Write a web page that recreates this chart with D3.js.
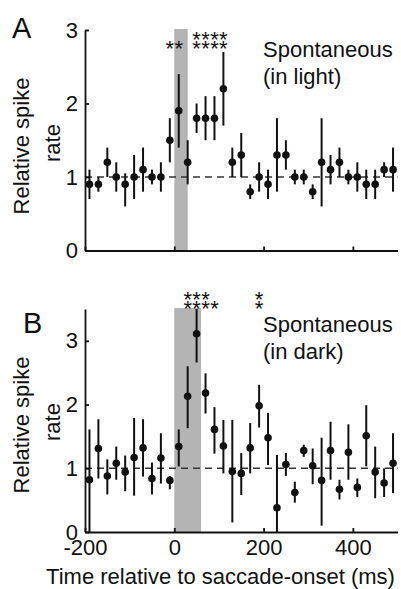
<!DOCTYPE html>
<html>
<head>
<meta charset="utf-8">
<script src="https://cdn.jsdelivr.net/npm/d3@7"></script>
<style>
  body { margin: 0; background: #fff; }
  svg { display: block; font-family: "Liberation Sans", Arial, sans-serif; }
  .axis path, .axis line { stroke: #111; stroke-width: 1.8; }
  .axis text { font-size: 22px; fill: #111; font-family: "Liberation Sans", Arial, sans-serif; }
</style>
</head>
<body>
<div id="chart"></div>
<script>
// bin centres (ms, relative to saccade onset)
const times = [-190, -170, -150, -130, -110, -90, -70, -50, -30, -10, 10, 30, 50, 70, 90, 110, 130, 150,
  170, 190, 210, 230, 250, 270, 290, 310, 330, 350, 370, 390, 410, 430, 450, 470, 490];

// A: spontaneous, in light
const lightMean = [0.9, 0.9, 1.2, 1.0, 0.9, 1.0, 1.1, 1.0, 1.0, 1.5, 1.9, 1.2, 1.8, 1.8, 1.8, 2.2, 1.2, 1.3,
  0.8, 1.0, 0.9, 1.3, 1.3, 1.0, 1.0, 0.8, 1.2, 1.1, 1.2, 1.0, 1.0, 0.9, 0.9, 1.1, 1.1];
const lightHi = [1.1, 1.0, 1.4, 1.2, 1.05, 1.3, 1.4, 1.1, 1.2, 1.8, 2.4, 1.5, 2.0, 2.1, 2.1, 2.7, 1.4, 1.6,
  0.9, 1.2, 1.1, 1.8, 1.5, 1.1, 1.1, 0.9, 1.8, 1.3, 1.4, 1.1, 1.2, 1.1, 1.1, 1.2, 1.4];
const lightLo = [0.7, 0.8, 1.0, 0.8, 0.6, 0.7, 0.8, 0.9, 0.8, 1.2, 1.4, 0.9, 1.6, 1.5, 1.5, 1.7, 1.0, 1.0,
  0.7, 0.8, 0.7, 0.8, 1.1, 0.9, 0.9, 0.7, 0.6, 0.9, 1.0, 0.9, 0.8, 0.7, 0.7, 1.0, 0.8];
const lightStarTimes = [-10, 10, 50, 70, 90, 110];
const lightStarCount = [1, 1, 2, 2, 2, 2];
const lightBand = [0, 30];

// B: spontaneous, in dark
const darkMean = [0.82, 1.31, 0.88, 1.08, 0.94, 1.17, 1.32, 0.84, 1.16, 0.81, 1.34, 2.13, 3.11, 2.18, 1.61, 1.35, 0.95, 0.92,
  1.32, 1.98, 1.48, 0.38, 1.06, 0.62, 1.28, 1.04, 0.81, 1.28, 0.67, 1.25, 0.70, 1.51, 0.94, 0.77, 1.08];
const darkHi = [1.61, 1.77, 1.14, 1.34, 1.2, 1.79, 1.77, 1.09, 1.55, 0.88, 1.61, 2.6, 3.5, 2.49, 1.96, 1.76, 1.76, 1.24,
  1.71, 2.31, 1.87, 1.21, 1.24, 0.79, 1.37, 1.31, 1.48, 1.73, 0.82, 1.69, 0.84, 1.99, 1.34, 1.0, 1.55];
const darkLo = [0, 0.84, 0.59, 0.82, 0.64, 0.57, 0.87, 0.59, 0.76, 0.67, 1.03, 1.63, 2.66, 1.86, 1.23, 0.92, 0.15, 0.58,
  0.92, 1.64, 1.05, 0, 0.88, 0.46, 1.18, 0.75, 0.1, 0.82, 0.51, 0.82, 0.55, 1.03, 0.53, 0.55, 0.61];
const darkStarTimes = [30, 50, 70, 90, 190];
const darkStarCount = [2, 2, 2, 1, 2];
const darkBand = [0, 60];

const xTicks = [-200, 0, 200, 400];

const width = 401, height = 589;

const svg = d3.select("#chart").append("svg")
  .attr("width", width)
  .attr("height", height);

// shared x scale
const xScale = d3.scaleLinear().domain([-200, 500]).range([85, 397.5]);

function drawPanel(p) {
  const yScale = d3.scaleLinear().domain([0, p.yMax]).range([p.y0, p.yTop]);
  const g = svg.append("g");

  // saccade window band
  g.append("rect")
    .attr("x", xScale(p.band[0]))
    .attr("width", xScale(p.band[1]) - xScale(p.band[0]))
    .attr("y", yScale(p.yMax) - 1)
    .attr("height", yScale(0) - yScale(p.yMax) + 1)
    .attr("fill", "#b4b4b4");

  // baseline at 1
  g.append("line")
    .attr("x1", xScale(-200)).attr("x2", xScale(500))
    .attr("y1", yScale(1)).attr("y2", yScale(1))
    .attr("stroke", "#333")
    .attr("stroke-width", 1.5)
    .attr("stroke-dasharray", "7,5");

  const rows = times.map((t, i) => ({ t, m: p.mean[i], hi: p.hi[i], lo: p.lo[i] }));

  g.selectAll("line.err")
    .data(rows)
    .join("line")
    .attr("class", "err")
    .attr("x1", d => xScale(d.t)).attr("x2", d => xScale(d.t))
    .attr("y1", d => yScale(d.hi)).attr("y2", d => yScale(d.lo))
    .attr("stroke", "#111")
    .attr("stroke-width", 2);

  g.selectAll("circle.dot")
    .data(rows)
    .join("circle")
    .attr("class", "dot")
    .attr("cx", d => xScale(d.t))
    .attr("cy", d => yScale(d.m))
    .attr("r", 3.8)
    .attr("fill", "#111");

  // axes, ticks pointing inward
  const yAxis = d3.axisLeft(yScale)
    .tickValues(d3.range(0, Math.floor(p.yMax) + 1))
    .tickFormat(d => String(d))
    .tickSizeInner(-4).tickSizeOuter(0).tickPadding(7);
  g.append("g")
    .attr("class", "axis")
    .attr("transform", `translate(${xScale(-200)},0)`)
    .call(yAxis);

  const xAxis = d3.axisBottom(xScale)
    .tickValues(xTicks)
    .tickSizeInner(-4).tickSizeOuter(0).tickPadding(7.5)
    .tickFormat(p.xLabels ? (d => String(d)) : () => "");
  g.append("g")
    .attr("class", "axis")
    .attr("transform", `translate(0,${yScale(0)})`)
    .call(xAxis);

  // significance asterisks: one text per bin, stacked tspans
  const starCols = p.starTimes.map((t, i) => ({ t, n: p.starCount[i] }));
  g.selectAll("text.star")
    .data(starCols)
    .join("text")
    .attr("class", "star")
    .attr("text-anchor", "middle")
    .attr("font-size", 22)
    .attr("fill", "#111")
    .selectAll("tspan")
    .data(d => d3.range(d.n).map(k => ({ t: d.t, k })))
    .join("tspan")
    .attr("x", d => xScale(d.t))
    .attr("y", d => p.starY - d.k * 9 + 12.5)
    .text("*");

  // panel letter
  g.append("text")
    .attr("x", p.letterX).attr("y", p.letterY)
    .attr("font-size", 29)
    .attr("fill", "#111")
    .text(p.letter);

  // condition label
  g.append("text")
    .attr("x", 263).attr("y", p.labelY)
    .attr("font-size", 22).attr("fill", "#111")
    .text("Spontaneous");
  g.append("text")
    .attr("x", 263).attr("y", p.labelY + 27)
    .attr("font-size", 22).attr("fill", "#111")
    .text(p.sub);

  // y axis title, two rotated lines
  g.append("text")
    .attr("transform", `translate(29,${p.yTitleC}) rotate(-90)`)
    .attr("text-anchor", "middle")
    .attr("font-size", 22).attr("fill", "#111")
    .text("Relative spike");
  g.append("text")
    .attr("transform", `translate(60,${p.yTitleC - 3}) rotate(-90)`)
    .attr("text-anchor", "middle")
    .attr("font-size", 22).attr("fill", "#111")
    .text("rate");
}

drawPanel({
  mean: lightMean, hi: lightHi, lo: lightLo,
  starTimes: lightStarTimes, starCount: lightStarCount, band: lightBand,
  yMax: 3, y0: 250.5, yTop: 30, starY: 43,
  xLabels: false, letter: "A", letterX: 12, letterY: 38,
  labelY: 57, sub: "(in light)", yTitleC: 146
});

drawPanel({
  mean: darkMean, hi: darkHi, lo: darkLo,
  starTimes: darkStarTimes, starCount: darkStarCount, band: darkBand,
  yMax: 3.5, y0: 532, yTop: 309, starY: 303,
  xLabels: true, letter: "B", letterX: 23, letterY: 333,
  labelY: 332, sub: "(in dark)", yTitleC: 425
});

// x axis title
svg.append("text")
  .attr("x", 220.5).attr("y", 584)
  .attr("text-anchor", "middle")
  .attr("font-size", 22)
  .attr("fill", "#111")
  .text("Time relative to saccade-onset (ms)");
</script>
</body>
</html>
